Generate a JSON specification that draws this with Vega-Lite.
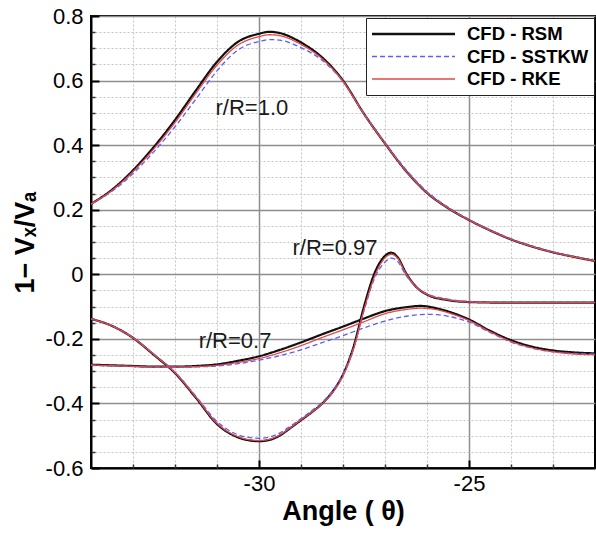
{
  "$schema": "https://vega.github.io/schema/vega-lite/v6.json",
  "width": 504,
  "height": 452,
  "autosize": {"type": "none"},
  "padding": {"left": 91, "top": 16, "right": 1, "bottom": 68},
  "background": "white",
  "config": {
    "font": "Liberation Sans",
    "view": {"stroke": "black", "strokeWidth": 2},
    "axis": {"labelFont": "Liberation Sans", "titleFont": "Liberation Sans", "labelColor": "black", "titleColor": "black"}
  },
  "datasets": {
    "curves": [
      {"curve":"1.0","model":"CFD - RSM","theta":-34,"value":0.218},
      {"curve":"1.0","model":"CFD - RSM","theta":-33.5,"value":0.262},
      {"curve":"1.0","model":"CFD - RSM","theta":-33,"value":0.322},
      {"curve":"1.0","model":"CFD - RSM","theta":-32.5,"value":0.395},
      {"curve":"1.0","model":"CFD - RSM","theta":-32,"value":0.478},
      {"curve":"1.0","model":"CFD - RSM","theta":-31.5,"value":0.570},
      {"curve":"1.0","model":"CFD - RSM","theta":-31,"value":0.658},
      {"curve":"1.0","model":"CFD - RSM","theta":-30.5,"value":0.720},
      {"curve":"1.0","model":"CFD - RSM","theta":-30,"value":0.745},
      {"curve":"1.0","model":"CFD - RSM","theta":-29.75,"value":0.751},
      {"curve":"1.0","model":"CFD - RSM","theta":-29.5,"value":0.747},
      {"curve":"1.0","model":"CFD - RSM","theta":-29,"value":0.718},
      {"curve":"1.0","model":"CFD - RSM","theta":-28.5,"value":0.672},
      {"curve":"1.0","model":"CFD - RSM","theta":-28,"value":0.600},
      {"curve":"1.0","model":"CFD - RSM","theta":-27.5,"value":0.497},
      {"curve":"1.0","model":"CFD - RSM","theta":-27,"value":0.405},
      {"curve":"1.0","model":"CFD - RSM","theta":-26.5,"value":0.320},
      {"curve":"1.0","model":"CFD - RSM","theta":-26,"value":0.252},
      {"curve":"1.0","model":"CFD - RSM","theta":-25.5,"value":0.205},
      {"curve":"1.0","model":"CFD - RSM","theta":-25,"value":0.168},
      {"curve":"1.0","model":"CFD - RSM","theta":-24.5,"value":0.136},
      {"curve":"1.0","model":"CFD - RSM","theta":-24,"value":0.108},
      {"curve":"1.0","model":"CFD - RSM","theta":-23.5,"value":0.086},
      {"curve":"1.0","model":"CFD - RSM","theta":-23,"value":0.068},
      {"curve":"1.0","model":"CFD - RSM","theta":-22.5,"value":0.054},
      {"curve":"1.0","model":"CFD - RSM","theta":-22,"value":0.041},

      {"curve":"0.97","model":"CFD - RSM","theta":-34,"value":-0.138},
      {"curve":"0.97","model":"CFD - RSM","theta":-33.5,"value":-0.160},
      {"curve":"0.97","model":"CFD - RSM","theta":-33,"value":-0.197},
      {"curve":"0.97","model":"CFD - RSM","theta":-32.5,"value":-0.250},
      {"curve":"0.97","model":"CFD - RSM","theta":-32,"value":-0.306},
      {"curve":"0.97","model":"CFD - RSM","theta":-31.5,"value":-0.383},
      {"curve":"0.97","model":"CFD - RSM","theta":-31,"value":-0.464},
      {"curve":"0.97","model":"CFD - RSM","theta":-30.5,"value":-0.505},
      {"curve":"0.97","model":"CFD - RSM","theta":-30.25,"value":-0.514},
      {"curve":"0.97","model":"CFD - RSM","theta":-30,"value":-0.517},
      {"curve":"0.97","model":"CFD - RSM","theta":-29.75,"value":-0.513},
      {"curve":"0.97","model":"CFD - RSM","theta":-29.5,"value":-0.499},
      {"curve":"0.97","model":"CFD - RSM","theta":-29.25,"value":-0.476},
      {"curve":"0.97","model":"CFD - RSM","theta":-29,"value":-0.452},
      {"curve":"0.97","model":"CFD - RSM","theta":-28.75,"value":-0.428},
      {"curve":"0.97","model":"CFD - RSM","theta":-28.5,"value":-0.401},
      {"curve":"0.97","model":"CFD - RSM","theta":-28.25,"value":-0.364},
      {"curve":"0.97","model":"CFD - RSM","theta":-28,"value":-0.310},
      {"curve":"0.97","model":"CFD - RSM","theta":-27.75,"value":-0.225},
      {"curve":"0.97","model":"CFD - RSM","theta":-27.5,"value":-0.100},
      {"curve":"0.97","model":"CFD - RSM","theta":-27.25,"value":0.003},
      {"curve":"0.97","model":"CFD - RSM","theta":-27,"value":0.057},
      {"curve":"0.97","model":"CFD - RSM","theta":-26.85,"value":0.067},
      {"curve":"0.97","model":"CFD - RSM","theta":-26.7,"value":0.053},
      {"curve":"0.97","model":"CFD - RSM","theta":-26.5,"value":0.004},
      {"curve":"0.97","model":"CFD - RSM","theta":-26.25,"value":-0.040},
      {"curve":"0.97","model":"CFD - RSM","theta":-26,"value":-0.063},
      {"curve":"0.97","model":"CFD - RSM","theta":-25.5,"value":-0.080},
      {"curve":"0.97","model":"CFD - RSM","theta":-25,"value":-0.086},
      {"curve":"0.97","model":"CFD - RSM","theta":-24,"value":-0.088},
      {"curve":"0.97","model":"CFD - RSM","theta":-23,"value":-0.088},
      {"curve":"0.97","model":"CFD - RSM","theta":-22,"value":-0.088},

      {"curve":"0.7","model":"CFD - RSM","theta":-34,"value":-0.280},
      {"curve":"0.7","model":"CFD - RSM","theta":-33.5,"value":-0.282},
      {"curve":"0.7","model":"CFD - RSM","theta":-33,"value":-0.284},
      {"curve":"0.7","model":"CFD - RSM","theta":-32.5,"value":-0.286},
      {"curve":"0.7","model":"CFD - RSM","theta":-32,"value":-0.286},
      {"curve":"0.7","model":"CFD - RSM","theta":-31.5,"value":-0.284},
      {"curve":"0.7","model":"CFD - RSM","theta":-31,"value":-0.279},
      {"curve":"0.7","model":"CFD - RSM","theta":-30.5,"value":-0.268},
      {"curve":"0.7","model":"CFD - RSM","theta":-30,"value":-0.254},
      {"curve":"0.7","model":"CFD - RSM","theta":-29.5,"value":-0.234},
      {"curve":"0.7","model":"CFD - RSM","theta":-29,"value":-0.211},
      {"curve":"0.7","model":"CFD - RSM","theta":-28.5,"value":-0.186},
      {"curve":"0.7","model":"CFD - RSM","theta":-28,"value":-0.162},
      {"curve":"0.7","model":"CFD - RSM","theta":-27.5,"value":-0.137},
      {"curve":"0.7","model":"CFD - RSM","theta":-27,"value":-0.114},
      {"curve":"0.7","model":"CFD - RSM","theta":-26.5,"value":-0.102},
      {"curve":"0.7","model":"CFD - RSM","theta":-26.15,"value":-0.098},
      {"curve":"0.7","model":"CFD - RSM","theta":-25.75,"value":-0.106},
      {"curve":"0.7","model":"CFD - RSM","theta":-25.5,"value":-0.115},
      {"curve":"0.7","model":"CFD - RSM","theta":-25,"value":-0.140},
      {"curve":"0.7","model":"CFD - RSM","theta":-24.5,"value":-0.175},
      {"curve":"0.7","model":"CFD - RSM","theta":-24,"value":-0.204},
      {"curve":"0.7","model":"CFD - RSM","theta":-23.5,"value":-0.224},
      {"curve":"0.7","model":"CFD - RSM","theta":-23,"value":-0.236},
      {"curve":"0.7","model":"CFD - RSM","theta":-22.5,"value":-0.242},
      {"curve":"0.7","model":"CFD - RSM","theta":-22,"value":-0.245},

      {"curve":"1.0","model":"CFD - SSTKW","theta":-34,"value":0.217},
      {"curve":"1.0","model":"CFD - SSTKW","theta":-33.5,"value":0.257},
      {"curve":"1.0","model":"CFD - SSTKW","theta":-33,"value":0.312},
      {"curve":"1.0","model":"CFD - SSTKW","theta":-32.5,"value":0.380},
      {"curve":"1.0","model":"CFD - SSTKW","theta":-32,"value":0.457},
      {"curve":"1.0","model":"CFD - SSTKW","theta":-31.5,"value":0.543},
      {"curve":"1.0","model":"CFD - SSTKW","theta":-31,"value":0.630},
      {"curve":"1.0","model":"CFD - SSTKW","theta":-30.5,"value":0.695},
      {"curve":"1.0","model":"CFD - SSTKW","theta":-30,"value":0.721},
      {"curve":"1.0","model":"CFD - SSTKW","theta":-29.75,"value":0.727},
      {"curve":"1.0","model":"CFD - SSTKW","theta":-29.5,"value":0.725},
      {"curve":"1.0","model":"CFD - SSTKW","theta":-29,"value":0.702},
      {"curve":"1.0","model":"CFD - SSTKW","theta":-28.5,"value":0.663},
      {"curve":"1.0","model":"CFD - SSTKW","theta":-28,"value":0.597},
      {"curve":"1.0","model":"CFD - SSTKW","theta":-27.5,"value":0.498},
      {"curve":"1.0","model":"CFD - SSTKW","theta":-27,"value":0.408},
      {"curve":"1.0","model":"CFD - SSTKW","theta":-26.5,"value":0.324},
      {"curve":"1.0","model":"CFD - SSTKW","theta":-26,"value":0.256},
      {"curve":"1.0","model":"CFD - SSTKW","theta":-25.5,"value":0.208},
      {"curve":"1.0","model":"CFD - SSTKW","theta":-25,"value":0.170},
      {"curve":"1.0","model":"CFD - SSTKW","theta":-24.5,"value":0.138},
      {"curve":"1.0","model":"CFD - SSTKW","theta":-24,"value":0.110},
      {"curve":"1.0","model":"CFD - SSTKW","theta":-23.5,"value":0.088},
      {"curve":"1.0","model":"CFD - SSTKW","theta":-23,"value":0.069},
      {"curve":"1.0","model":"CFD - SSTKW","theta":-22.5,"value":0.055},
      {"curve":"1.0","model":"CFD - SSTKW","theta":-22,"value":0.042},

      {"curve":"0.97","model":"CFD - SSTKW","theta":-34,"value":-0.138},
      {"curve":"0.97","model":"CFD - SSTKW","theta":-33.5,"value":-0.160},
      {"curve":"0.97","model":"CFD - SSTKW","theta":-33,"value":-0.196},
      {"curve":"0.97","model":"CFD - SSTKW","theta":-32.5,"value":-0.248},
      {"curve":"0.97","model":"CFD - SSTKW","theta":-32,"value":-0.303},
      {"curve":"0.97","model":"CFD - SSTKW","theta":-31.5,"value":-0.378},
      {"curve":"0.97","model":"CFD - SSTKW","theta":-31,"value":-0.456},
      {"curve":"0.97","model":"CFD - SSTKW","theta":-30.5,"value":-0.497},
      {"curve":"0.97","model":"CFD - SSTKW","theta":-30.25,"value":-0.505},
      {"curve":"0.97","model":"CFD - SSTKW","theta":-30,"value":-0.508},
      {"curve":"0.97","model":"CFD - SSTKW","theta":-29.75,"value":-0.504},
      {"curve":"0.97","model":"CFD - SSTKW","theta":-29.5,"value":-0.491},
      {"curve":"0.97","model":"CFD - SSTKW","theta":-29.25,"value":-0.470},
      {"curve":"0.97","model":"CFD - SSTKW","theta":-29,"value":-0.447},
      {"curve":"0.97","model":"CFD - SSTKW","theta":-28.75,"value":-0.423},
      {"curve":"0.97","model":"CFD - SSTKW","theta":-28.5,"value":-0.397},
      {"curve":"0.97","model":"CFD - SSTKW","theta":-28.25,"value":-0.361},
      {"curve":"0.97","model":"CFD - SSTKW","theta":-28,"value":-0.308},
      {"curve":"0.97","model":"CFD - SSTKW","theta":-27.75,"value":-0.229},
      {"curve":"0.97","model":"CFD - SSTKW","theta":-27.5,"value":-0.113},
      {"curve":"0.97","model":"CFD - SSTKW","theta":-27.25,"value":-0.013},
      {"curve":"0.97","model":"CFD - SSTKW","theta":-27,"value":0.038},
      {"curve":"0.97","model":"CFD - SSTKW","theta":-26.85,"value":0.050},
      {"curve":"0.97","model":"CFD - SSTKW","theta":-26.7,"value":0.040},
      {"curve":"0.97","model":"CFD - SSTKW","theta":-26.5,"value":-0.003},
      {"curve":"0.97","model":"CFD - SSTKW","theta":-26.25,"value":-0.040},
      {"curve":"0.97","model":"CFD - SSTKW","theta":-26,"value":-0.060},
      {"curve":"0.97","model":"CFD - SSTKW","theta":-25.5,"value":-0.077},
      {"curve":"0.97","model":"CFD - SSTKW","theta":-25,"value":-0.084},
      {"curve":"0.97","model":"CFD - SSTKW","theta":-24,"value":-0.086},
      {"curve":"0.97","model":"CFD - SSTKW","theta":-23,"value":-0.086},
      {"curve":"0.97","model":"CFD - SSTKW","theta":-22,"value":-0.086},

      {"curve":"0.7","model":"CFD - SSTKW","theta":-34,"value":-0.282},
      {"curve":"0.7","model":"CFD - SSTKW","theta":-33.5,"value":-0.284},
      {"curve":"0.7","model":"CFD - SSTKW","theta":-33,"value":-0.286},
      {"curve":"0.7","model":"CFD - SSTKW","theta":-32.5,"value":-0.288},
      {"curve":"0.7","model":"CFD - SSTKW","theta":-32,"value":-0.288},
      {"curve":"0.7","model":"CFD - SSTKW","theta":-31.5,"value":-0.287},
      {"curve":"0.7","model":"CFD - SSTKW","theta":-31,"value":-0.284},
      {"curve":"0.7","model":"CFD - SSTKW","theta":-30.5,"value":-0.277},
      {"curve":"0.7","model":"CFD - SSTKW","theta":-30,"value":-0.266},
      {"curve":"0.7","model":"CFD - SSTKW","theta":-29.5,"value":-0.252},
      {"curve":"0.7","model":"CFD - SSTKW","theta":-29,"value":-0.234},
      {"curve":"0.7","model":"CFD - SSTKW","theta":-28.5,"value":-0.212},
      {"curve":"0.7","model":"CFD - SSTKW","theta":-28,"value":-0.190},
      {"curve":"0.7","model":"CFD - SSTKW","theta":-27.5,"value":-0.166},
      {"curve":"0.7","model":"CFD - SSTKW","theta":-27,"value":-0.145},
      {"curve":"0.7","model":"CFD - SSTKW","theta":-26.5,"value":-0.130},
      {"curve":"0.7","model":"CFD - SSTKW","theta":-26,"value":-0.124},
      {"curve":"0.7","model":"CFD - SSTKW","theta":-25.75,"value":-0.125},
      {"curve":"0.7","model":"CFD - SSTKW","theta":-25.5,"value":-0.130},
      {"curve":"0.7","model":"CFD - SSTKW","theta":-25,"value":-0.148},
      {"curve":"0.7","model":"CFD - SSTKW","theta":-24.5,"value":-0.180},
      {"curve":"0.7","model":"CFD - SSTKW","theta":-24,"value":-0.210},
      {"curve":"0.7","model":"CFD - SSTKW","theta":-23.5,"value":-0.229},
      {"curve":"0.7","model":"CFD - SSTKW","theta":-23,"value":-0.240},
      {"curve":"0.7","model":"CFD - SSTKW","theta":-22.5,"value":-0.245},
      {"curve":"0.7","model":"CFD - SSTKW","theta":-22,"value":-0.247},

      {"curve":"1.0","model":"CFD - RKE","theta":-34,"value":0.218},
      {"curve":"1.0","model":"CFD - RKE","theta":-33.5,"value":0.260},
      {"curve":"1.0","model":"CFD - RKE","theta":-33,"value":0.318},
      {"curve":"1.0","model":"CFD - RKE","theta":-32.5,"value":0.389},
      {"curve":"1.0","model":"CFD - RKE","theta":-32,"value":0.470},
      {"curve":"1.0","model":"CFD - RKE","theta":-31.5,"value":0.561},
      {"curve":"1.0","model":"CFD - RKE","theta":-31,"value":0.648},
      {"curve":"1.0","model":"CFD - RKE","theta":-30.5,"value":0.710},
      {"curve":"1.0","model":"CFD - RKE","theta":-30,"value":0.736},
      {"curve":"1.0","model":"CFD - RKE","theta":-29.75,"value":0.742},
      {"curve":"1.0","model":"CFD - RKE","theta":-29.5,"value":0.739},
      {"curve":"1.0","model":"CFD - RKE","theta":-29,"value":0.712},
      {"curve":"1.0","model":"CFD - RKE","theta":-28.5,"value":0.668},
      {"curve":"1.0","model":"CFD - RKE","theta":-28,"value":0.598},
      {"curve":"1.0","model":"CFD - RKE","theta":-27.5,"value":0.496},
      {"curve":"1.0","model":"CFD - RKE","theta":-27,"value":0.405},
      {"curve":"1.0","model":"CFD - RKE","theta":-26.5,"value":0.320},
      {"curve":"1.0","model":"CFD - RKE","theta":-26,"value":0.252},
      {"curve":"1.0","model":"CFD - RKE","theta":-25.5,"value":0.205},
      {"curve":"1.0","model":"CFD - RKE","theta":-25,"value":0.168},
      {"curve":"1.0","model":"CFD - RKE","theta":-24.5,"value":0.136},
      {"curve":"1.0","model":"CFD - RKE","theta":-24,"value":0.108},
      {"curve":"1.0","model":"CFD - RKE","theta":-23.5,"value":0.086},
      {"curve":"1.0","model":"CFD - RKE","theta":-23,"value":0.068},
      {"curve":"1.0","model":"CFD - RKE","theta":-22.5,"value":0.054},
      {"curve":"1.0","model":"CFD - RKE","theta":-22,"value":0.041},

      {"curve":"0.97","model":"CFD - RKE","theta":-34,"value":-0.138},
      {"curve":"0.97","model":"CFD - RKE","theta":-33.5,"value":-0.160},
      {"curve":"0.97","model":"CFD - RKE","theta":-33,"value":-0.197},
      {"curve":"0.97","model":"CFD - RKE","theta":-32.5,"value":-0.249},
      {"curve":"0.97","model":"CFD - RKE","theta":-32,"value":-0.305},
      {"curve":"0.97","model":"CFD - RKE","theta":-31.5,"value":-0.381},
      {"curve":"0.97","model":"CFD - RKE","theta":-31,"value":-0.462},
      {"curve":"0.97","model":"CFD - RKE","theta":-30.5,"value":-0.503},
      {"curve":"0.97","model":"CFD - RKE","theta":-30.25,"value":-0.512},
      {"curve":"0.97","model":"CFD - RKE","theta":-30,"value":-0.515},
      {"curve":"0.97","model":"CFD - RKE","theta":-29.75,"value":-0.511},
      {"curve":"0.97","model":"CFD - RKE","theta":-29.5,"value":-0.497},
      {"curve":"0.97","model":"CFD - RKE","theta":-29.25,"value":-0.475},
      {"curve":"0.97","model":"CFD - RKE","theta":-29,"value":-0.451},
      {"curve":"0.97","model":"CFD - RKE","theta":-28.75,"value":-0.428},
      {"curve":"0.97","model":"CFD - RKE","theta":-28.5,"value":-0.402},
      {"curve":"0.97","model":"CFD - RKE","theta":-28.25,"value":-0.367},
      {"curve":"0.97","model":"CFD - RKE","theta":-28,"value":-0.315},
      {"curve":"0.97","model":"CFD - RKE","theta":-27.75,"value":-0.232},
      {"curve":"0.97","model":"CFD - RKE","theta":-27.5,"value":-0.110},
      {"curve":"0.97","model":"CFD - RKE","theta":-27.25,"value":-0.007},
      {"curve":"0.97","model":"CFD - RKE","theta":-27,"value":0.051},
      {"curve":"0.97","model":"CFD - RKE","theta":-26.85,"value":0.062},
      {"curve":"0.97","model":"CFD - RKE","theta":-26.7,"value":0.050},
      {"curve":"0.97","model":"CFD - RKE","theta":-26.5,"value":0.002},
      {"curve":"0.97","model":"CFD - RKE","theta":-26.25,"value":-0.040},
      {"curve":"0.97","model":"CFD - RKE","theta":-26,"value":-0.062},
      {"curve":"0.97","model":"CFD - RKE","theta":-25.5,"value":-0.079},
      {"curve":"0.97","model":"CFD - RKE","theta":-25,"value":-0.086},
      {"curve":"0.97","model":"CFD - RKE","theta":-24,"value":-0.088},
      {"curve":"0.97","model":"CFD - RKE","theta":-23,"value":-0.088},
      {"curve":"0.97","model":"CFD - RKE","theta":-22,"value":-0.088},

      {"curve":"0.7","model":"CFD - RKE","theta":-34,"value":-0.281},
      {"curve":"0.7","model":"CFD - RKE","theta":-33.5,"value":-0.283},
      {"curve":"0.7","model":"CFD - RKE","theta":-33,"value":-0.285},
      {"curve":"0.7","model":"CFD - RKE","theta":-32.5,"value":-0.287},
      {"curve":"0.7","model":"CFD - RKE","theta":-32,"value":-0.287},
      {"curve":"0.7","model":"CFD - RKE","theta":-31.5,"value":-0.286},
      {"curve":"0.7","model":"CFD - RKE","theta":-31,"value":-0.282},
      {"curve":"0.7","model":"CFD - RKE","theta":-30.5,"value":-0.273},
      {"curve":"0.7","model":"CFD - RKE","theta":-30,"value":-0.261},
      {"curve":"0.7","model":"CFD - RKE","theta":-29.5,"value":-0.243},
      {"curve":"0.7","model":"CFD - RKE","theta":-29,"value":-0.221},
      {"curve":"0.7","model":"CFD - RKE","theta":-28.5,"value":-0.196},
      {"curve":"0.7","model":"CFD - RKE","theta":-28,"value":-0.172},
      {"curve":"0.7","model":"CFD - RKE","theta":-27.5,"value":-0.147},
      {"curve":"0.7","model":"CFD - RKE","theta":-27,"value":-0.122},
      {"curve":"0.7","model":"CFD - RKE","theta":-26.5,"value":-0.109},
      {"curve":"0.7","model":"CFD - RKE","theta":-26.15,"value":-0.105},
      {"curve":"0.7","model":"CFD - RKE","theta":-25.75,"value":-0.110},
      {"curve":"0.7","model":"CFD - RKE","theta":-25.5,"value":-0.119},
      {"curve":"0.7","model":"CFD - RKE","theta":-25,"value":-0.143},
      {"curve":"0.7","model":"CFD - RKE","theta":-24.5,"value":-0.178},
      {"curve":"0.7","model":"CFD - RKE","theta":-24,"value":-0.208},
      {"curve":"0.7","model":"CFD - RKE","theta":-23.5,"value":-0.228},
      {"curve":"0.7","model":"CFD - RKE","theta":-23,"value":-0.240},
      {"curve":"0.7","model":"CFD - RKE","theta":-22.5,"value":-0.247},
      {"curve":"0.7","model":"CFD - RKE","theta":-22,"value":-0.249}
    ],
    "labels": [
      {"theta": -30.17, "value": 0.515, "label": "r/R=1.0"},
      {"theta": -28.19, "value": 0.082, "label": "r/R=0.97"},
      {"theta": -30.57, "value": -0.206, "label": "r/R=0.7"}
    ]
  },
  "layer": [
    {
      "data": {"name": "curves"},
      "mark": {"type": "line", "interpolate": "monotone", "clip": true},
      "encoding": {
        "x": {
          "field": "theta", "type": "quantitative",
          "scale": {"domain": [-34, -22], "nice": false, "zero": false},
          "axis": {
            "orient": "bottom", "values": [-30, -25], "title": "Angle ( θ)",
            "titleFontSize": 27, "titleFontWeight": "bold", "titlePadding": 4,
            "labelFontSize": 22, "labelPadding": 13,
            "labelExpr": "(datum.value < 0 ? '-' : '') + format(abs(datum.value), '~g')",
            "grid": true, "gridColor": "#8e8e8e", "gridWidth": 1.5,
            "ticks": true, "tickSize": -8, "tickWidth": 2, "tickColor": "black",
            "domain": true, "domainColor": "black", "domainWidth": 2
          }
        },
        "y": {
          "field": "value", "type": "quantitative",
          "scale": {"domain": [-0.6, 0.8], "nice": false, "zero": false},
          "axis": {
            "orient": "left", "values": [-0.6, -0.4, -0.2, 0, 0.2, 0.4, 0.6, 0.8],
            "title": "1− Vₓ/Vₐ", "titleFontSize": 27, "titleFontWeight": "bold", "titlePadding": 6,
            "labelFontSize": 22, "labelPadding": 16,
            "labelExpr": "(datum.value < 0 ? '-' : '') + format(abs(datum.value), '~g')",
            "grid": true, "gridColor": "#8e8e8e", "gridWidth": 1.5,
            "ticks": true, "tickSize": -8, "tickWidth": 2, "tickColor": "black",
            "domain": true, "domainColor": "black", "domainWidth": 2
          }
        },
        "detail": {"field": "curve", "type": "nominal"},
        "color": {
          "field": "model", "type": "nominal",
          "scale": {"domain": ["CFD - RSM", "CFD - SSTKW", "CFD - RKE"], "range": ["#111111", "#5c5cff", "#e44848"]},
          "legend": {
            "title": null, "orient": "none", "legendX": 275, "legendY": 2, "direction": "vertical",
            "symbolType": "stroke", "symbolSize": 6889, "clipHeight": 22, "rowPadding": 0.5,
            "padding": 5, "labelOffset": 11, "labelFontSize": 18.5, "labelFontWeight": "bold",
            "labelColor": "black", "labelFont": "Liberation Sans",
            "strokeColor": "#222222", "fillColor": "white", "symbolStrokeWidth": 1.5,
            "encode": {"symbols": {"update": {"strokeWidth": {"signal": "(datum.value === 'CFD - RSM' ? 2.5 : 1.4)"}}}}
          }
        },
        "strokeDash": {
          "field": "model", "type": "nominal",
          "scale": {"domain": ["CFD - RSM", "CFD - SSTKW", "CFD - RKE"], "range": [[1, 0], [5, 3], [1, 0]]},
          "legend": null
        },
        "strokeWidth": {"condition": {"test": "datum.model === 'CFD - RSM'", "value": 2.2}, "value": 1.3}
      }
    },
    {
      "data": {"name": "labels"},
      "mark": {"type": "text", "fontSize": 22, "font": "Liberation Sans", "color": "#1a1a1a", "align": "center", "baseline": "middle"},
      "encoding": {
        "x": {
          "field": "theta", "type": "quantitative",
          "scale": {"domain": [-34, -22], "nice": false, "zero": false},
          "axis": {
            "orient": "bottom", "values": [-33, -32, -31, -29, -28, -27, -26, -24, -23],
            "title": null, "labels": false, "domain": false,
            "grid": true, "gridColor": "#c4c4c4", "gridWidth": 1, "gridDash": [2, 2],
            "ticks": true, "tickSize": -4, "tickWidth": 1.5, "tickColor": "#333333"
          }
        },
        "y": {
          "field": "value", "type": "quantitative",
          "scale": {"domain": [-0.6, 0.8], "nice": false, "zero": false},
          "axis": {
            "orient": "left",
            "values": [-0.55, -0.5, -0.45, -0.35, -0.3, -0.25, -0.15, -0.1, -0.05, 0.05, 0.1, 0.15, 0.25, 0.3, 0.35, 0.45, 0.5, 0.55, 0.65, 0.7, 0.75],
            "title": null, "labels": false, "domain": false,
            "grid": true, "gridColor": "#c4c4c4", "gridWidth": 1, "gridDash": [2, 2],
            "ticks": true, "tickSize": -4, "tickWidth": 1.5, "tickColor": "#333333"
          }
        },
        "text": {"field": "label", "type": "nominal"}
      }
    }
  ],
  "resolve": {"axis": {"x": "independent", "y": "independent"}}
}
